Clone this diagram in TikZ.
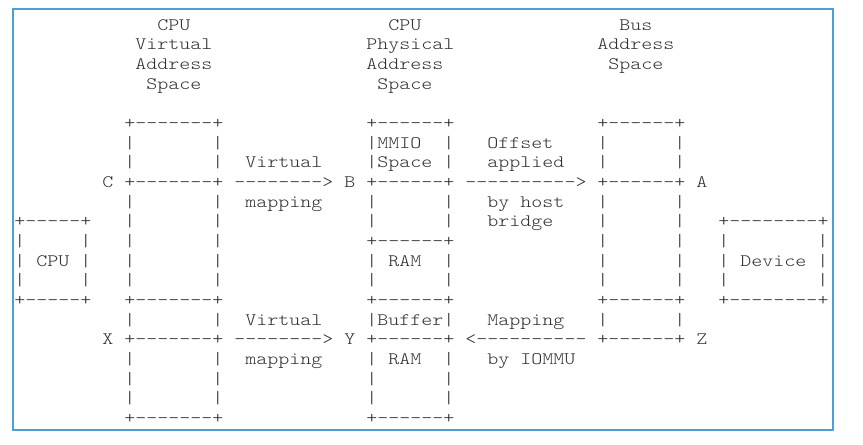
\documentclass[tikz,border=0pt]{standalone}
\usepackage{fontspec}
\newfontfamily\asciifont[FakeStretch=1.2]{lmmonolt10-regular.otf}
\usetikzlibrary{positioning}
\definecolor{framebl}{RGB}{76,160,216}
\definecolor{asciigray}{RGB}{45,45,45}
\tikzset{
  asc/.style  ={font=\asciifont\fontsize{13.1pt}{14.74pt}\selectfont,
                text=asciigray, inner sep=0pt, anchor=base west},
  frame/.style={draw=framebl, line width=1.5pt},
}
\begin{document}
\begin{tikzpicture}[x=8.25pt, y=-14.7375pt]
\useasboundingbox (-1.791,-1.272) rectangle (76.664,21.374);
\draw[frame] (-0.609,-0.789) rectangle (73.936,20.636);

\begin{scope}[shift={(-0.5,0.27)}]
% column headings
\node[asc] (hvA) at (13,0) {CPU};
\node[asc] (hvB) at (11,1) {Virtual};
\node[asc] (hvC) at (11,2) {Address};
\node[asc] (hvD) at (12,3) {Space};
\node[asc] (hpA) at (34,0) {CPU};
\node[asc] (hpB) at (32,1) {Physical};
\node[asc] (hpC) at (32,2) {Address};
\node[asc] (hpD) at (33,3) {Space};
\node[asc] (hbA) at (55,0) {Bus};
\node[asc] (hbB) at (53,1) {Address};
\node[asc] (hbC) at (54,2) {Space};

% cpu virtual address space
\foreach \r in {5,8,14,16,20}
  \node[asc] (vrow\r) at (10,\r) {+-------+};
\foreach \r in {6,7,9,10,11,12,13,15,17,18,19} {
  \node[asc] (vl\r) at (10,\r) {|};
  \node[asc] (vr\r) at (18,\r) {|};
}

% cpu physical address space
\foreach \r in {5,8,11,14,16,20}
  \node[asc] (prow\r) at (32,\r) {+------+};
\foreach \r in {6,7,9,10,12,13,15,17,18,19} {
  \node[asc] (pl\r) at (32,\r) {|};
  \node[asc] (pr\r) at (39,\r) {|};
}
\node[asc] (mmio) at (33,6) {MMIO};
\node[asc] (mspace) at (33,7) {Space};
\node[asc] (ramA) at (34,12) {RAM};
\node[asc] (buf) at (33,15) {Buffer};
\node[asc] (ramB) at (34,17) {RAM};

% bus address space
\foreach \r in {5,8,14,16}
  \node[asc] (brow\r) at (53,\r) {+------+};
\foreach \r in {6,7,9,10,11,12,13,15} {
  \node[asc] (bl\r) at (53,\r) {|};
  \node[asc] (br\r) at (60,\r) {|};
}

% cpu and device
\foreach \r in {10,14} {
  \node[asc] (crow\r) at (0,\r) {+-----+};
  \node[asc] (drow\r) at (64,\r) {+--------+};
}
\foreach \r in {11,12,13} {
  \node[asc] (cl\r) at (0,\r) {|};
  \node[asc] (cr\r) at (6,\r) {|};
  \node[asc] (dl\r) at (64,\r) {|};
  \node[asc] (dr\r) at (73,\r) {|};
}
\node[asc] (cpu) at (2,12) {CPU};
\node[asc] (dev) at (66,12) {Device};

% address points
\node[asc] (ptC) at (8,8) {C};
\node[asc] (ptB) at (30,8) {B};
\node[asc] (ptA) at (62,8) {A};
\node[asc] (ptX) at (8,16) {X};
\node[asc] (ptY) at (30,16) {Y};
\node[asc] (ptZ) at (62,16) {Z};

% mappings
\node[asc] (vmA) at (21,7) {Virtual};
\node[asc] (arCB) at (20,8) {-------->};
\node[asc] (mpA) at (21,9) {mapping};
\node[asc] (vmB) at (21,15) {Virtual};
\node[asc] (arXY) at (20,16) {-------->};
\node[asc] (mpB) at (21,17) {mapping};

\node[asc] (offA) at (43,6) {Offset};
\node[asc] (offB) at (43,7) {applied};
\node[asc] (arBA) at (41,8) {---------->};
\node[asc] (offC) at (43,9) {by host};
\node[asc] (offD) at (43,10) {bridge};
\node[asc] (iomA) at (43,15) {Mapping};
\node[asc] (arZY) at (41,16) {<----------};
\node[asc] (iomB) at (43,17) {by IOMMU};
\end{scope}

\end{tikzpicture}
\end{document}
